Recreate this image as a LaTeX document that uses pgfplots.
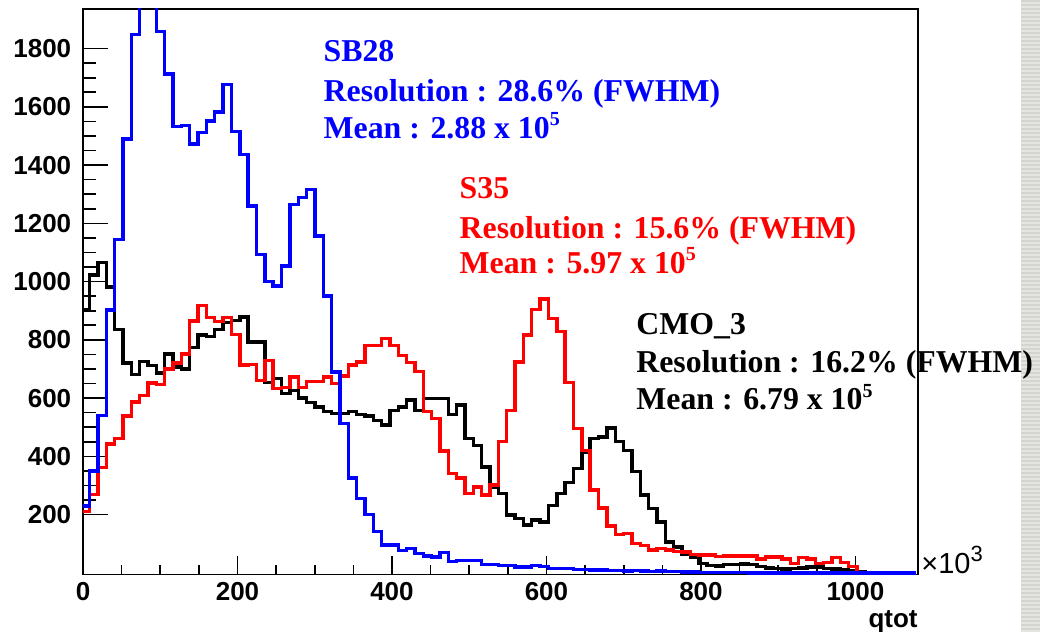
\documentclass[border=0pt]{standalone}
\usepackage{fontspec}
\setmainfont{Liberation Serif}
\setsansfont{Liberation Sans}
\usepackage{pgfplots}
\usepackage{pgfplotstable}
\pgfplotsset{compat=1.18}
\definecolor{hblue}{RGB}{0,0,255}
\definecolor{hred}{RGB}{255,0,0}
\definecolor{bandA}{RGB}{212,212,206}
\definecolor{bandB}{RGB}{228,228,224}

% bin left edges (width 10.8 x 10^3) and contents
\pgfplotstableread{
x y
-2.2 229
8.6 350
19.4 541
30.2 902
41 1144
51.8 1490
62.6 1848
73.4 2100
84.2 2100
95 1858
105.8 1713
116.6 1532
127.4 1536
138.2 1473
149 1512
159.8 1552
170.6 1583
181.4 1676
192.2 1516
203 1437
213.8 1259
224.6 1094
235.4 1000
246.2 985
257 1054
267.8 1265
278.6 1289
289.4 1316
300.2 1156
311 951
321.8 690
332.6 512
343.4 326
354.2 255
365 200
375.8 141
386.6 95
397.4 95
408.2 76
419 83
429.8 66
440.6 58
451.4 55
462.2 70
473 38
483.8 43
494.6 43
505.4 43
516.2 28
527 28
537.8 25
548.6 25
559.4 20
570.2 20
581 25
591.8 22
602.6 15
613.4 15
624.2 14
635 12
645.8 12
656.6 10
667.4 10
678.2 8
689 9
699.8 7
710.6 8
721.4 6
732.2 5
743 6
753.8 4
764.6 4
775.4 3
786.2 3
797 2
807.8 2
818.6 2
829.4 1
840.2 1
851 1
861.8 0
1077.8 0
}\tblBlue

\pgfplotstableread{
x y
-2.2 902
8.6 1023
19.4 1066
30.2 981
41 836
51.8 721
62.6 680
73.4 726
84.2 712
95 686
105.8 752
116.6 707
127.4 700
138.2 773
149 816
159.8 812
170.6 836
181.4 860
192.2 866
203 878
213.8 793
224.6 793
235.4 653
246.2 667
257 616
267.8 627
278.6 601
289.4 585
300.2 570
311 555
321.8 547
332.6 547
343.4 553
354.2 544
365 539
375.8 524
386.6 507
397.4 558
408.2 570
419 593
429.8 558
440.6 598
451.4 598
462.2 598
473 544
483.8 576
494.6 461
505.4 438
516.2 364
527 295
537.8 272
548.6 198
559.4 186
570.2 164
581 181
591.8 175
602.6 232
613.4 272
624.2 310
635 358
645.8 415
656.6 461
667.4 466
678.2 498
689 450
699.8 421
710.6 347
721.4 267
732.2 221
743 175
753.8 106
764.6 89
775.4 63
786.2 55
797 32
807.8 26
818.6 24
829.4 29
840.2 29
851 31
861.8 28
872.6 22
883.4 16
894.2 14
905 13
915.8 15
926.6 17
937.4 20
948.2 20
959 15
969.8 13
980.6 10
991.4 8
1002.2 5
1013 0
1077.8 0
}\tblBlack

\pgfplotstableread{
x y
-2.2 210
8.6 270
19.4 362
30.2 442
41 462
51.8 539
62.6 586
73.4 608
84.2 652
95 647
105.8 700
116.6 720
127.4 751
138.2 865
149 917
159.8 876
170.6 863
181.4 876
192.2 818
203 713
213.8 716
224.6 661
235.4 730
246.2 633
257 637
267.8 672
278.6 637
289.4 656
300.2 658
311 672
321.8 650
332.6 676
343.4 713
354.2 724
365 780
375.8 780
386.6 805
397.4 780
408.2 747
419 722
429.8 692
440.6 555
451.4 530
462.2 418
473 341
483.8 326
494.6 272
505.4 295
516.2 267
527 301
537.8 450
548.6 558
559.4 724
570.2 816
581 904
591.8 940
602.6 873
613.4 828
624.2 653
635 496
645.8 421
656.6 284
667.4 223
678.2 161
689 132
699.8 135
710.6 101
721.4 93
732.2 78
743 83
753.8 78
764.6 74
775.4 72
786.2 63
797 61
807.8 61
818.6 57
829.4 58
840.2 58
851 58
861.8 58
872.6 47
883.4 55
894.2 55
905 47
915.8 32
926.6 52
937.4 47
948.2 32
959 35
969.8 52
980.6 35
991.4 21
1002.2 0
1077.8 0
}\tblRed

\begin{document}
\begin{tikzpicture}[x=1pt,y=1pt]
\useasboundingbox (0,0) rectangle (520,316);
\fill[white] (0,0) rectangle (520,316);
\fill[bandA] (510.5,0) rectangle (520,316);
\foreach \i in {0,2,...,316} {\fill[bandB] (510.5,\i) rectangle (520,\i+0.9);}

% x ticks axis (drawn first, beneath the histograms)
\begin{axis}[
  at={(41.5pt,28.85pt)}, anchor=south west, scale only axis,
  width=417.5pt, height=282.65pt,
  xmin=0, xmax=1081, ymin=-5, ymax=1936,
  ytick=\empty,
  xtick={0,200,...,1000}, minor x tick num=3,
  xtick pos=bottom, tick align=inside,
  major tick length=9.2pt, minor tick length=4.7pt,
  every tick/.style={black, line width=0.8pt},
  axis line style={black, line width=0.7pt},
  xticklabel style={font=\sffamily\bfseries\fontsize{13}{15}\selectfont, inner sep=0pt, yshift=-3.9pt},
  /pgf/number format/assume math mode=true,
  /pgf/number format/1000 sep={},
]
\end{axis}

\begin{axis}[
  at={(41.5pt,28.85pt)}, anchor=south west, scale only axis,
  width=417.5pt, height=282.65pt,
  xmin=0, xmax=1081, ymin=-5, ymax=1936,
  xtick=\empty,
  ytick={200,400,...,1800}, minor y tick num=3,
  ytick pos=left, tick align=inside,
  major tick length=12.5pt, minor tick length=6.3pt,
  every tick/.style={black, line width=0.8pt},
  axis line style={black, line width=0.7pt},
  yticklabel style={font=\sffamily\bfseries\fontsize{13}{15}\selectfont, inner sep=0pt, xshift=-5.7pt},
  /pgf/number format/assume math mode=true,
  /pgf/number format/1000 sep={},
]
\addplot[const plot mark left, black, line width=1.7pt, line join=miter] table[x=x,y=y] {\tblBlack};
\addplot[const plot mark left, hred, line width=1.7pt, line join=miter] table[x=x,y=y] {\tblRed};
\addplot[const plot mark left, hblue, line width=1.7pt, line join=miter] table[x=x,y=y] {\tblBlue};
\end{axis}

\node[anchor=base west, inner sep=0pt, font=\sffamily\fontsize{14.5}{16}\selectfont] at (460.5,29.3) {×10\raisebox{0.42em}{\fontsize{11}{12}\selectfont 3}};
\node[anchor=base east, inner sep=0pt, font=\sffamily\bfseries\fontsize{13}{15}\selectfont] at (459,2) {qtot};

\begin{scope}[every node/.style={anchor=base west, inner sep=0pt, font=\bfseries\fontsize{15.9}{19}\selectfont}]
\node[text=hblue] at (161.65,285.15) {SB28};
\node[text=hblue] at (161.65,265.15) {Resolution : 28.6\% (FWHM)};
\node[text=hblue] at (161.65,246.85) {Mean : 2.88 x 10\raisebox{0.4em}{\fontsize{10}{12}\selectfont 5}};
\node[text=hred] at (229.65,216.85) {S35};
\node[text=hred] at (229.65,196.85) {Resolution : 15.6\% (FWHM)};
\node[text=hred] at (229.65,179.35) {Mean : 5.97 x 10\raisebox{0.4em}{\fontsize{10}{12}\selectfont 5}};
\node[text=black] at (318,148.5) {CMO\_3};
\node[text=black] at (318,129.65) {Resolution : 16.2\% (FWHM)};
\node[text=black] at (318,111) {Mean : 6.79 x 10\raisebox{0.4em}{\fontsize{10}{12}\selectfont 5}};
\end{scope}
\end{tikzpicture}
\end{document}
